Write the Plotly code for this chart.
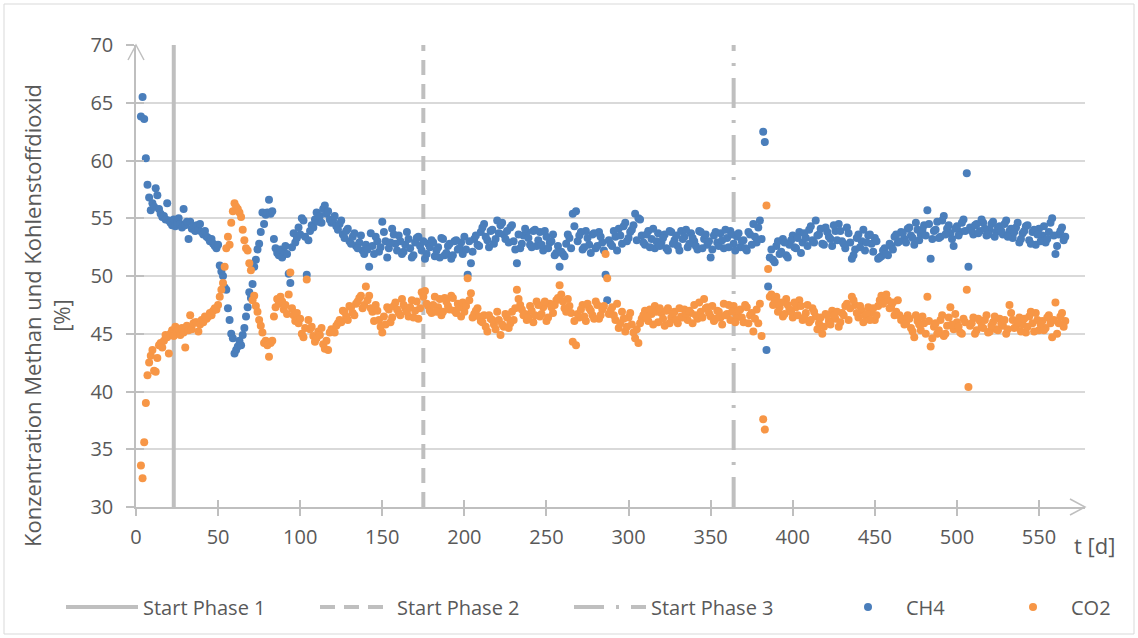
import plotly.graph_objects as go

# ---------------- data ----------------
days = [
    3, 4, 5, 6, 7, 8, 9, 10, 11, 12,
    13, 14, 15, 16, 17, 18, 19, 20, 21, 22,
    23, 24, 25, 26, 27, 28, 29, 30, 31, 32,
    33, 34, 35, 36, 37, 38, 39, 40, 41, 42,
    43, 44, 45, 46, 47, 48, 49, 50, 51, 52,
    53, 54, 55, 56, 57, 58, 59, 60, 61, 62,
    63, 64, 65, 66, 67, 68, 69, 70, 71, 72,
    73, 74, 75, 76, 77, 78, 79, 80, 81, 82,
    83, 84, 85, 86, 87, 88, 89, 90, 91, 92,
    93, 94, 95, 96, 97, 98, 99, 100, 101, 102,
    103, 104, 105, 106, 107, 108, 109, 110, 111, 112,
    113, 114, 115, 116, 117, 118, 119, 120,
    122, 124, 126, 128, 130, 132, 134, 136, 138, 140,
    142, 144, 146, 148, 150, 152, 154, 156, 158, 160,
    162, 164, 166, 168, 170, 172, 174, 176, 178, 180,
    182, 184, 186, 188, 190, 192, 194, 196, 198, 200,
    202, 204, 206, 208, 210, 212, 214, 216, 218, 220,
    222, 224, 226, 228, 230, 232, 234, 236, 238, 240,
    242, 244, 246, 248, 250, 252, 254, 256, 258, 260,
    262, 264, 266, 268, 270, 272, 274, 276, 278, 280,
    282, 284, 286, 287,
    288, 290, 292, 294, 296, 298, 300, 302, 304, 306,
    308, 310, 312, 314, 316, 318, 320, 322, 324, 326,
    328, 330, 332, 334, 336, 338, 340, 342, 344, 346,
    348, 350, 352, 354, 356, 358, 360, 362, 364, 366,
    368, 370, 372, 374, 376, 378, 380, 381, 382, 383, 384, 385, 386,
    388, 390, 392, 394, 396, 398, 400, 402, 404, 406,
    408, 410, 412, 414, 416, 418, 420, 422, 424, 426,
    428, 430, 432, 434, 436, 438, 440, 442, 444, 446,
    448, 450, 452, 454, 456, 458, 460, 462, 464, 466,
    468, 470, 472, 474, 476, 478, 480, 482, 484, 486,
    488, 490, 492, 494, 496, 498, 500, 502, 504, 506, 507,
    508, 510, 512, 514, 516, 518, 520, 522, 524, 526,
    528, 530, 532, 534, 536, 538, 540, 542, 544, 546,
    548, 550, 552, 554, 556, 558, 560, 562, 564, 566,
]

ch4 = [
    63.8, 65.5, 63.6, 60.2, 57.9, 56.8, 55.7, 56.3, 56.0, 57.6,
    57.0, 55.8, 55.4, 55.1, 55.2, 54.9, 56.3, 54.8, 54.6, 54.4,
    54.9, 54.3, 54.6, 55.0, 54.5, 54.2, 55.8, 54.4, 54.7, 53.2,
    54.7, 54.1, 54.3, 53.9, 54.4, 54.0, 54.5, 53.8, 53.6, 53.9,
    53.4, 53.3, 53.0, 53.2, 52.8, 52.6, 52.4, 52.7, 50.9, 50.4,
    50.0, 49.0, 48.8, 47.2, 46.2, 45.0, 44.6, 43.3, 43.6, 43.9,
    44.4, 44.0, 44.9, 45.5, 46.5, 47.3, 48.6, 48.1, 49.3, 50.8,
    51.4, 52.3, 52.8, 53.8, 55.5, 54.5, 55.3, 55.5, 56.6, 55.4,
    55.6, 53.2, 52.4, 52.0, 51.8, 52.3, 51.6, 52.1, 52.6, 51.9,
    50.2, 49.4, 52.5, 53.7, 52.9, 53.3, 54.2, 53.6, 55.0, 54.8,
    53.4, 50.1, 53.1, 53.9, 54.4, 54.2, 54.9, 55.5, 54.7, 55.2,
    54.6, 55.8, 56.1, 55.4, 55.6, 54.9, 54.6, 54.8,
    54.3, 54.5, 53.6, 53.9, 53.0, 53.4, 52.6, 52.9, 52.2, 52.7,
    50.8, 52.6, 53.4, 52.1, 54.7, 53.0, 52.4, 54.1, 52.8, 53.5,
    51.9, 52.7, 53.2, 51.6, 52.9, 53.4, 52.2, 51.5, 52.8, 53.1,
    51.7, 52.5, 53.3, 51.8, 52.6, 51.5, 53.0, 52.3, 52.9, 53.4,
    50.1, 51.1, 53.2, 52.7, 53.8, 54.5, 53.1, 53.9, 52.8, 54.8,
    54.4, 53.6, 53.9, 54.2, 53.0, 51.1, 52.4, 53.5, 53.8, 52.7,
    53.9, 52.6, 53.8, 52.2, 53.4, 52.9, 53.6, 52.0, 50.8, 51.9,
    52.8, 53.3, 55.4, 55.6, 53.5, 52.3, 53.9, 52.7, 53.6, 52.4,
    53.8, 52.9, 50.1, 47.9,
    53.1, 52.6, 53.4, 54.1, 52.8, 54.6, 53.3, 54.0, 55.4, 55.0,
    53.5, 52.7, 53.9, 53.2, 52.4, 53.7, 52.9, 53.6, 52.2, 53.8,
    53.1, 52.6, 53.9, 53.4, 52.5, 53.7, 53.0, 52.3, 53.8, 53.2,
    52.7, 51.6, 53.5, 52.9, 53.7, 52.4, 53.3, 53.9, 52.8, 53.4,
    52.5, 53.1, 52.2, 53.6, 54.5, 52.9, 54.8, 53.2, 62.5, 61.6, 43.6, 49.1, 51.6,
    51.4, 52.6, 51.9, 53.2, 51.8, 52.7, 53.5, 52.4, 53.8, 52.9,
    53.3, 54.0, 53.1, 54.8, 53.6, 52.8, 54.2, 53.4, 52.6, 53.9,
    54.5, 53.0, 52.4, 53.7, 51.5, 52.3, 53.6, 53.0, 52.2, 53.5,
    52.8, 53.3, 51.5, 51.7, 52.4, 51.8, 52.6, 53.4, 52.9, 53.8,
    53.2, 54.1, 53.5, 52.7, 54.0, 53.6, 54.4, 55.7, 51.5, 53.9,
    54.7, 53.4, 55.2, 54.1, 53.7, 52.6, 54.3, 53.8, 54.9, 58.9, 50.8,
    54.2, 53.6, 54.5, 53.9, 54.6, 53.5, 54.0, 54.7, 53.8, 54.3,
    53.6, 54.8, 53.9, 53.3, 54.2, 52.9, 53.7, 54.3, 53.1, 53.8,
    52.7, 54.1, 53.5, 52.9, 53.8, 55.0, 51.9, 53.6, 54.2, 53.4,
]

co2 = [
    33.6, 32.5, 35.6, 39.0, 41.4, 42.5, 43.1, 43.6, 41.8, 41.7,
    42.9, 44.0, 44.2, 43.8, 44.4, 44.9, 44.7, 43.3, 45.0, 45.3,
    44.8, 45.6, 45.2, 45.4, 44.9, 45.5, 45.1, 43.8, 45.7, 45.3,
    46.6, 45.4, 45.9, 46.0, 46.0, 45.2, 45.8, 46.2, 46.0, 46.5,
    46.3, 46.5, 46.8, 46.6, 47.0, 47.2, 47.1, 47.5, 48.2, 48.8,
    49.4, 50.8, 52.4, 53.4, 52.7, 54.6, 55.6, 56.3, 56.0, 55.8,
    55.5, 55.1, 54.0, 53.1, 52.4, 52.2, 51.1, 50.5, 47.9, 48.3,
    47.4, 46.9, 46.2, 45.7, 45.1, 44.2, 44.4, 44.0, 43.0, 44.2,
    44.4, 46.5, 47.3, 48.0, 47.6, 48.2, 47.8, 47.1, 47.5, 46.7,
    48.4, 50.3, 47.2, 46.6, 46.1, 46.8, 45.9, 46.3, 45.0, 44.7,
    45.5, 49.7, 46.2, 45.4, 45.6, 44.8, 44.3, 44.6, 45.2, 44.9,
    45.5, 44.1, 43.7, 44.4, 43.6, 45.1, 45.4, 45.3,
    45.7, 46.2, 47.0, 46.5, 47.4, 46.8, 47.6, 48.1, 47.2, 49.1,
    48.3, 46.9, 47.5, 46.2, 45.1, 45.8, 47.1, 46.4, 47.7, 46.8,
    48.0, 47.2, 46.5, 47.9, 47.0, 46.3, 48.6, 48.7, 47.4, 46.8,
    48.2, 47.3, 46.6, 48.1, 47.4, 48.3, 47.0, 47.6, 46.5, 46.9,
    49.8, 48.5, 46.7, 47.2, 46.1, 46.6, 45.2, 46.3, 45.8, 46.9,
    44.9, 45.6, 46.4, 45.9, 46.2, 48.8, 47.5, 46.6, 46.2, 47.4,
    46.0, 47.8, 46.5, 47.3, 46.1, 47.6, 46.8, 47.9, 49.2, 47.8,
    46.9, 47.4, 44.3, 44.0, 46.4, 47.5, 46.1, 47.2, 46.6, 47.8,
    46.3, 47.1, 51.9, 49.8,
    46.7, 47.3, 46.2, 45.5, 46.9, 45.2, 46.4, 45.8, 44.6, 44.2,
    46.3, 47.0, 46.1, 46.7, 47.4, 46.0, 46.8, 45.7, 47.2, 46.4,
    46.9, 45.9, 46.5, 47.1, 46.2, 46.8, 47.5, 46.3, 46.9, 48.0,
    47.3, 46.5, 46.1, 47.0, 46.4, 47.6, 46.7, 46.2, 47.4, 46.5,
    47.1, 46.0, 47.3, 46.6, 45.2, 47.1, 47.6, 44.8, 37.6, 36.7, 56.1, 50.6, 48.2,
    47.5, 48.2, 47.3, 46.5, 48.0, 47.1, 46.4, 47.3, 47.9, 46.2,
    46.8, 46.0, 47.2, 46.5, 45.9, 45.0, 46.7, 46.1, 47.0, 46.3,
    45.6, 46.8, 47.4, 46.2, 48.2, 47.5, 46.4, 47.0, 46.6, 47.3,
    46.8, 46.2, 47.4, 48.3, 48.1, 47.9, 47.4, 46.6, 47.9, 46.2,
    45.8, 46.6, 45.5, 44.7, 46.1, 45.3, 45.9, 48.2, 43.9, 45.6,
    45.0, 46.2, 44.8, 45.7, 47.3, 45.4, 46.0, 45.1, 46.3, 48.8, 40.4,
    45.7, 46.4, 45.3, 46.1, 45.5, 46.6, 45.2, 46.0, 45.4, 46.3,
    45.7, 45.0, 47.5, 46.2, 45.6, 46.4, 45.8, 45.1, 46.5, 45.9,
    46.8, 45.3, 46.1, 45.5, 46.6, 44.7, 47.7, 45.9, 46.8, 46.1,
]

# intermediate (odd) measurement days of the long stable period
days_odd = [
    121, 123, 125, 127, 129, 131, 133, 135, 137, 139,
    141, 143, 145, 147, 149, 151, 153, 155, 157, 159,
    161, 163, 165, 167, 169, 171, 173, 175, 177, 179,
    181, 183, 185, 187, 189, 191, 193, 195, 197, 199,
    201, 203, 205, 207, 209, 211, 213, 215, 217, 219,
    221, 223, 225, 227, 229, 231, 233, 235, 237, 239,
    241, 243, 245, 247, 249, 251, 253, 255, 257, 259,
    261, 263, 265, 267, 269, 271, 273, 275, 277, 279,
    281, 283, 285,
    289, 291, 293, 295, 297, 299, 301, 303, 305, 307,
    309, 311, 313, 315, 317, 319, 321, 323, 325, 327,
    329, 331, 333, 335, 337, 339, 341, 343, 345, 347,
    349, 351, 353, 355, 357, 359, 361, 363, 365, 367,
    369, 371, 373, 375, 377, 379,
    387, 389, 391, 393, 395, 397, 399, 401, 403, 405,
    407, 409, 411, 413, 415, 417, 419, 421, 423, 425,
    427, 429, 431, 433, 435, 437, 439, 441, 443, 445,
    447, 449, 451, 453, 455, 457, 459, 461, 463, 465,
    467, 469, 471, 473, 475, 477, 479, 481, 483, 485,
    487, 489, 491, 493, 495, 497, 499, 501, 503, 505,
    509, 511, 513, 515, 517, 519, 521, 523, 525, 527,
    529, 531, 533, 535, 537, 539, 541, 543, 545, 547,
    549, 551, 553, 555, 557, 559, 561, 563, 565,
]

ch4_odd = [
    55.2, 54.0, 54.8, 53.3, 54.1, 52.8, 53.7, 52.4, 53.5, 51.9,
    52.3, 53.7, 51.9, 53.0, 52.5, 53.8, 51.6, 52.9, 53.6, 52.2,
    53.0, 52.1, 53.8, 52.4, 51.8, 53.3, 52.6, 53.0, 51.9, 52.5,
    52.9, 52.2, 51.6, 53.2, 52.0, 52.8, 51.8, 53.1, 52.4, 51.9,
    52.3, 53.0, 52.1, 53.5, 52.6, 54.2, 53.4, 52.5, 54.0, 53.2,
    53.7, 54.6, 53.2, 52.9, 54.4, 52.3, 53.6, 52.8, 54.1, 53.3,
    52.5, 54.0, 53.1, 52.7, 53.9, 52.4, 53.0, 51.8, 52.6, 52.1,
    51.7, 53.6, 52.4, 54.3, 53.0, 53.8, 52.5, 53.3, 52.0, 53.7,
    52.6, 53.4, 52.2,
    52.8, 53.9, 52.2, 53.5, 54.3, 53.0, 53.8, 54.4, 53.1, 54.9,
    52.9, 53.6, 52.5, 54.1, 53.0, 52.6, 53.3, 52.4, 53.9, 52.8,
    53.5, 52.2, 53.2, 54.0, 52.8, 53.3, 52.6, 53.9, 52.4, 53.6,
    53.0, 52.3, 53.8, 52.6, 53.1, 54.0, 52.5, 53.6, 52.2, 53.7,
    53.0, 52.4, 53.8, 52.7, 53.4, 54.2,
    52.3, 51.2, 53.0, 52.1, 52.9, 51.6, 53.1, 52.5, 53.3, 52.0,
    53.7, 52.6, 54.3, 52.9, 53.5, 54.1, 52.7, 53.8, 53.2, 54.4,
    53.1, 53.9, 52.8, 54.2, 52.9, 51.8, 53.3, 52.5, 54.0, 52.9,
    53.6, 52.1, 53.0, 51.6, 52.2, 51.9, 52.8, 52.3, 53.6, 53.0,
    53.7, 52.9, 54.2, 53.3, 54.6, 53.1, 54.0, 53.5, 54.5, 53.2,
    54.0, 53.3, 54.8, 53.6, 54.4, 53.2, 54.1, 53.5, 54.6, 53.9,
    53.9, 54.4, 53.7, 54.9, 54.1, 53.6, 54.5, 53.4, 54.2, 53.9,
    54.5, 53.4, 54.1, 53.8, 54.6, 53.2, 53.9, 54.4, 52.8, 54.0,
    53.6, 53.0, 54.3, 53.2, 54.6, 53.5, 52.6, 53.9, 53.1,
]

co2_odd = [
    45.1, 45.9, 46.0, 46.9, 46.2, 47.3, 46.6, 47.8, 48.3, 47.5,
    47.9, 47.2, 46.1, 47.0, 45.6, 46.5, 47.3, 46.0, 47.4, 47.1,
    46.6, 47.5, 46.9, 47.3, 46.4, 47.8, 47.2, 48.2, 47.6, 47.0,
    47.5, 46.9, 48.0, 46.9, 47.8, 47.1, 48.1, 46.8, 47.3, 47.7,
    47.4, 47.9, 46.4, 47.0, 46.5, 46.0, 45.6, 46.6, 46.2, 45.4,
    46.2, 45.8, 46.7, 45.5, 46.9, 47.2, 48.0, 47.1, 46.7, 46.4,
    47.0, 46.6, 47.5, 46.7, 47.8, 46.4, 47.3, 47.5, 48.1, 48.4,
    47.2, 48.0, 46.8, 46.1, 46.7, 47.1, 46.5, 47.6, 47.0, 46.3,
    47.5, 46.6, 47.4,
    47.0, 46.6, 47.6, 45.9, 46.3, 45.6, 46.8, 45.1, 45.4, 45.9,
    46.6, 46.4, 47.1, 45.8, 46.9, 47.2, 46.3, 47.0, 45.9, 46.7,
    46.2, 47.2, 46.4, 46.7, 47.0, 45.9, 46.6, 47.7, 46.4, 47.2,
    46.8, 47.4, 46.3, 46.9, 45.8, 46.6, 47.5, 46.9, 46.0, 47.0,
    46.4, 47.5, 45.9, 46.8, 46.3, 45.9,
    48.4, 47.8, 46.9, 47.7, 46.7, 47.5, 46.9, 47.7, 46.6, 47.4,
    46.4, 47.5, 46.2, 46.9, 45.4, 46.4, 45.6, 46.6, 45.8, 46.6,
    46.9, 46.0, 46.6, 47.6, 47.2, 47.9, 46.8, 47.4, 46.0, 46.7,
    46.2, 47.2, 46.6, 47.9, 47.6, 48.4, 47.2, 47.7, 46.9, 46.6,
    46.3, 45.9, 46.3, 45.2, 46.6, 45.8, 46.5, 45.0, 46.1, 44.6,
    45.9, 45.3, 46.6, 45.0, 46.4, 45.8, 46.7, 45.6, 45.0, 46.0,
    45.9, 45.0, 46.3, 45.6, 46.2, 45.1, 45.7, 46.5, 45.3, 45.9,
    46.2, 45.4, 46.8, 45.5, 46.0, 45.2, 46.3, 45.6, 46.9, 45.2,
    46.2, 45.8, 45.3, 46.4, 45.9, 46.2, 45.0, 46.5, 45.6,
]

assert len(days) == len(ch4) == len(co2)
assert len(days_odd) == len(ch4_odd) == len(co2_odd)

phase_names = ["Start Phase 1", "Start Phase 2", "Start Phase 3"]
phase_days = [23, 175, 364]
phase_dash = ["solid", "15px,9px", "30px,12px,3px,12px"]

x_ticks = [0, 50, 100, 150, 200, 250, 300, 350, 400, 450, 500, 550]
y_ticks = [30, 35, 40, 45, 50, 55, 60, 65, 70]
y_grid = [35, 40, 45, 50, 55, 60, 65]
x_range = [0, 578]
y_range = [30, 70]

y_title = "Konzentration Methan und Kohlenstoffdioxid<br>[%]"
x_title = "t [d]"

# ---------------- styling ----------------
GRAY = "#BFBFBF"
GRID = "#D9D9D9"
TXT = "#595959"
FONT = "Open Sans"
BLUE = "#4A7EBB"
ORANGE = "#F79646"

W, H = 1138, 638
L, R, T, B = 136, 53, 45, 131
pw, ph = W - L - R, H - T - B


def px_x(p):
    return (p - L) / pw


def px_y(p):
    return (H - B - p) / ph


fig = go.Figure()

for name, d, dash in zip(phase_names, phase_days, phase_dash):
    fig.add_trace(go.Scatter(
        x=[d, d], y=y_range, mode="lines", name=name,
        line=dict(color=GRAY, width=4, dash=dash),
        legend="legend", hoverinfo="skip",
    ))

fig.add_trace(go.Scatter(x=days + days_odd, y=ch4 + ch4_odd, mode="markers", name="CH4",
                         marker=dict(color=BLUE, size=8), legend="legend2"))
fig.add_trace(go.Scatter(x=days + days_odd, y=co2 + co2_odd, mode="markers", name="CO2",
                         marker=dict(color=ORANGE, size=8), legend="legend3"))

# invisible trace to activate the overlay axes
fig.add_trace(go.Scatter(x=[None], y=[None], xaxis="x2", yaxis="y2", showlegend=False))

legend_common = dict(orientation="h", xref="container", yref="container",
                     y=1 - 607 / H, xanchor="left", yanchor="middle",
                     font=dict(family=FONT, size=20, color=TXT),
                     bgcolor="rgba(0,0,0,0)", borderwidth=0)

fig.update_layout(
    width=W, height=H,
    margin=dict(l=L, r=R, t=T, b=B, autoexpand=False),
    paper_bgcolor="white", plot_bgcolor="white",
    font=dict(family=FONT, color=TXT, size=19),
    xaxis=dict(range=x_range, tickvals=x_ticks, showgrid=False, zeroline=False,
               showline=True, linecolor=GRAY, linewidth=1.5,
               ticks="outside", ticklen=7, tickwidth=1.5, tickcolor=GRAY,
               ticklabelstandoff=4, tickfont=dict(size=20, color=TXT)),
    xaxis2=dict(range=x_range, tickvals=x_ticks, overlaying="x", anchor="y",
                side="bottom", showgrid=False, zeroline=False, showticklabels=False,
                ticks="inside", ticklen=7, tickwidth=1.5, tickcolor=GRAY),
    yaxis=dict(range=y_range, tickvals=y_ticks, showgrid=False, zeroline=False,
               showline=True, linecolor=GRAY, linewidth=1.5,
               ticks="outside", ticklen=8, tickwidth=1.5, tickcolor=GRAY,
               ticklabelstandoff=9, tickfont=dict(size=20, color=TXT)),
    yaxis2=dict(range=y_range, tickvals=y_grid, overlaying="y", anchor="x",
                side="left", showgrid=True, gridcolor=GRID, gridwidth=1.5,
                zeroline=False, showticklabels=False,
                ticks="inside", ticklen=8, tickwidth=1.5, tickcolor=GRAY),
    legend=dict(legend_common, x=61 / W, entrywidth=167, itemwidth=72),
    legend2=dict(legend_common, x=830 / W, itemwidth=66),
    legend3=dict(legend_common, x=995 / W, itemwidth=66),
    showlegend=True,
)

# axis arrows
fig.add_shape(type="path", xref="paper", yref="paper", xsizemode="pixel", ysizemode="pixel",
              xanchor=1, yanchor=0, path="M-15,8 L0,0 L-15,-8",
              line=dict(color=GRAY, width=1.5), layer="below")
fig.add_shape(type="path", xref="paper", yref="paper", xsizemode="pixel", ysizemode="pixel",
              xanchor=0, yanchor=1, path="M-8,-15 L0,0 L8,-15",
              line=dict(color=GRAY, width=1.5), layer="below")

# outer frame
fig.add_shape(type="rect", xref="paper", yref="paper",
              x0=px_x(4), x1=px_x(1134), y0=px_y(634), y1=px_y(4),
              line=dict(color=GRID, width=1), layer="below")

# axis titles
fig.add_annotation(text=y_title, xref="paper", yref="paper", x=px_x(46), y=px_y(316),
                   textangle=-90, showarrow=False, align="center",
                   font=dict(family=FONT, size=22, color=TXT),
                   xanchor="center", yanchor="middle")
fig.add_annotation(text=x_title, xref="paper", yref="paper", x=px_x(1094), y=px_y(545),
                   showarrow=False, font=dict(family=FONT, size=22, color=TXT),
                   xanchor="center", yanchor="middle")

fig.write_html("out.html", post_script="document.body.style.margin='0';",
               config={"displayModeBar": False})
